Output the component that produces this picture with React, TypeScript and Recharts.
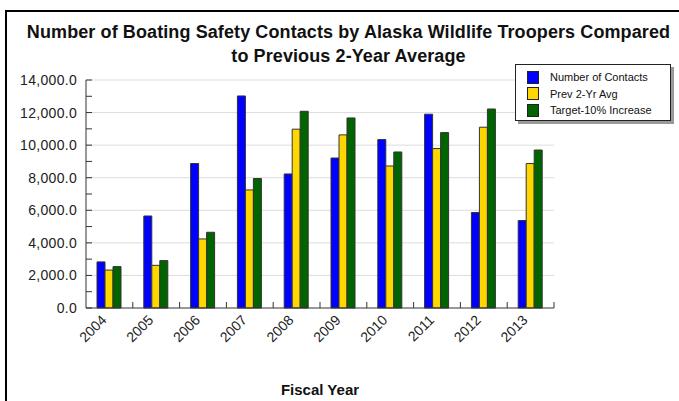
import { Bar, BarChart, CartesianGrid, XAxis, YAxis } from 'recharts';

const years = ['2004', '2005', '2006', '2007', '2008', '2009', '2010', '2011', '2012', '2013'];
const contacts = [2830, 5650, 8870, 13020, 8230, 9210, 10340, 11900, 5860, 5370];
const prevAvg = [2330, 2620, 4240, 7250, 10980, 10630, 8720, 9790, 11100, 8870];
const target = [2540, 2910, 4650, 7950, 12080, 11670, 9580, 10770, 12220, 9700];
const yTicks = [0, 1000, 2000, 3000, 4000, 5000, 6000, 7000, 8000, 9000, 10000, 11000, 12000, 13000, 14000];
const gridLines = [2000, 4000, 6000, 8000, 10000, 12000, 14000];

const series = [
  { key: 'contacts', name: 'Number of Contacts', color: '#0000ff' },
  { key: 'prevAvg', name: 'Prev 2-Yr Avg', color: '#ffd700' },
  { key: 'target', name: 'Target-10% Increase', color: '#006400' },
];

const data = years.map((year, i) => ({ year, contacts: contacts[i], prevAvg: prevAvg[i], target: target[i] }));

const W = 679;
const H = 401;
const plotLeft = 86;
const plotRight = 554;
const band = (plotRight - plotLeft) / years.length;
const font = 'Arial, "Liberation Sans", Helvetica, sans-serif';

const fmt = (v: number) => v.toLocaleString('en-US', { minimumFractionDigits: 1, maximumFractionDigits: 1 });

function YTick({ x, y, payload }: any) {
  const v = payload.value as number;
  return (
    <g>
      <line x1={x} x2={x + 6} y1={y} y2={y} stroke="#333" />
      {v % 2000 === 0 && (
        <text x={x - 9} y={y} dy={5} textAnchor="end" fontSize={14} letterSpacing={0.3} fill="#222" fontFamily={font}>{fmt(v)}</text>
      )}
    </g>
  );
}

function XTick({ x, y, payload }: any) {
  const tx = x - 2;
  const ty = y + 13;
  return (
    <g>
      <line x1={x + band / 2} x2={x + band / 2} y1={y} y2={y - 6} stroke="#333" />
      <text x={tx} y={ty} textAnchor="end" fontSize={14} fill="#222" fontFamily={font} transform={`rotate(-45, ${tx}, ${ty})`}>{payload.value}</text>
    </g>
  );
}

export default function App() {
  return (
    <div style={{ position: 'absolute', left: 0, top: 0, width: W, height: H, background: '#fff', fontFamily: font, overflow: 'hidden' }}>
      <div style={{ position: 'absolute', left: 5, top: 10, width: W, height: H, borderTop: '2px solid #000', borderLeft: '2px solid #000' }} />
      <div style={{ position: 'absolute', left: 0, top: 20, width: 697, textAlign: 'center', fontWeight: 'bold', fontSize: 18, letterSpacing: 0.1, lineHeight: '24px', color: '#111' }}>
        Number of Boating Safety Contacts by Alaska Wildlife Troopers Compared<br />to Previous 2-Year Average
      </div>
      <div style={{ position: 'absolute', top: 0, left: 0 }}>
        <BarChart width={W} height={H} data={data} margin={{ top: 80, right: W - plotRight, left: 0, bottom: 0 }} barGap={0} barSize={8}>
          <CartesianGrid vertical={false} horizontalValues={gridLines} stroke="#dcdcdc" />
          <XAxis
            dataKey="year"
            height={93}
            interval={0}
            tickSize={0}
            tickMargin={0}
            tickLine={false}
            tick={<XTick />}
            stroke="#333"
            label={{ value: 'Fiscal Year', position: 'insideBottom', offset: 6, style: { fontWeight: 'bold', fontSize: 15, fill: '#111', fontFamily: font } }}
          />
          <YAxis
            width={plotLeft}
            domain={[0, 14000]}
            ticks={yTicks}
            interval={0}
            tickSize={0}
            tickMargin={0}
            tickLine={false}
            tick={<YTick />}
            stroke="#333"
          />
          {series.map((s) => (
            <Bar key={s.key} dataKey={s.key} name={s.name} fill={s.color} stroke="#333" strokeWidth={1} isAnimationActive={false} />
          ))}
        </BarChart>
      </div>
      <div style={{ position: 'absolute', left: 515, top: 64, width: 154, height: 55, border: '1px solid #222', boxShadow: '3px 3px 0 #9a9a9a', background: '#fff' }}>
        {series.map((s, i) => (
          <div key={s.key} style={{ position: 'absolute', left: 11, top: 5 + i * 16.5, height: 14, display: 'flex', alignItems: 'center', fontSize: 11, color: '#111', whiteSpace: 'nowrap' }}>
            <span style={{ display: 'inline-block', width: 10, height: 11, background: s.color, border: '1px solid #222', marginRight: 11 }} />
            {s.name}
          </div>
        ))}
      </div>
    </div>
  );
}
